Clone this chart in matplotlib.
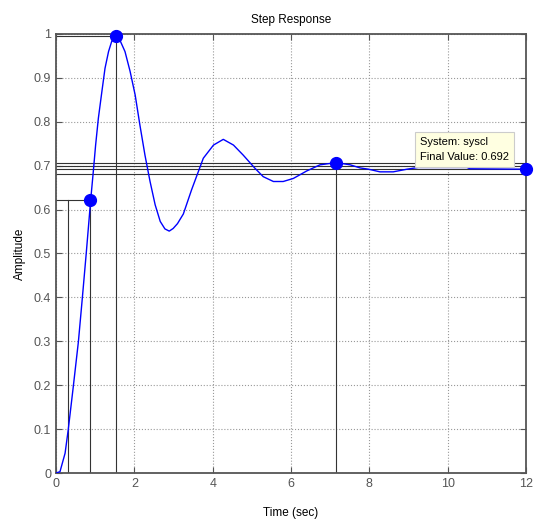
import matplotlib
matplotlib.use("Agg")
import matplotlib.pyplot as plt

# Step response curve
t = [0.0, 0.10, 0.23, 0.31, 0.44, 0.57, 0.67, 0.77, 0.886, 0.95, 1.01, 1.08, 1.17, 1.25,
     1.34, 1.42, 1.52, 1.63, 1.76, 1.89, 2.02, 2.14, 2.27, 2.40, 2.53, 2.66, 2.78, 2.89,
     2.99, 3.10, 3.25, 3.46, 3.76, 4.02, 4.27, 4.53, 4.78, 5.08, 5.29, 5.55, 5.80, 6.06,
     6.40, 6.74, 7.15, 7.51, 7.76, 7.98, 8.27, 8.61, 8.96, 9.25, 10.49, 10.57, 12.0]
y = [0.0, 0.003, 0.045, 0.098, 0.197, 0.299, 0.398, 0.50, 0.624, 0.686, 0.747, 0.808, 0.869, 0.922,
     0.960, 0.983, 0.994, 0.986, 0.960, 0.915, 0.861, 0.793, 0.724, 0.664, 0.611, 0.573, 0.556, 0.551,
     0.557, 0.568, 0.590, 0.645, 0.717, 0.747, 0.760, 0.747, 0.724, 0.694, 0.675, 0.664, 0.664, 0.671,
     0.688, 0.702, 0.707, 0.702, 0.695, 0.692, 0.686, 0.686, 0.692, 0.696, 0.696, 0.693, 0.692]

# Characteristic points
rise_start_t = 0.30
rise_end_t, rise_end_y = 0.87, 0.622
peak_t, peak_y = 1.52, 0.995
settle_t, settle_y = 7.15, 0.707
final_t, final_y = 12.0, 0.692
band_lines = [0.707, 0.700, 0.692, 0.680]

xticks = [0, 2, 4, 6, 8, 10, 12]
yticks = [0, 0.1, 0.2, 0.3, 0.4, 0.5, 0.6, 0.7, 0.8, 0.9, 1]
ytick_labels = ["0", "0.1", "0.2", "0.3", "0.4", "0.5", "0.6", "0.7", "0.8", "0.9", "1"]

plt.rcParams['font.family'] = ['Liberation Sans', 'DejaVu Sans']

fig = plt.figure(figsize=(5.34, 5.23), dpi=100)
ax = fig.add_axes([0.105, 0.0956, 0.88, 0.8394])

ax.set_xlim(0, 12)
ax.set_ylim(0, 1)

ax.grid(True, linestyle=':', color='#999999', linewidth=0.8)

lc = '#333333'
lw = 0.8
for b in band_lines:
    ax.axhline(b, color=lc, linewidth=lw, zorder=2)
ax.plot([0, rise_end_t], [rise_end_y, rise_end_y], color=lc, linewidth=lw, zorder=2)
ax.plot([rise_start_t, rise_start_t], [0, rise_end_y], color=lc, linewidth=lw, zorder=2)
ax.plot([rise_end_t, rise_end_t], [0, rise_end_y], color=lc, linewidth=lw, zorder=2)
ax.plot([0, peak_t], [peak_y, peak_y], color=lc, linewidth=lw, zorder=2)
ax.plot([peak_t, peak_t], [0, peak_y], color=lc, linewidth=lw, zorder=2)
ax.plot([settle_t, settle_t], [0, settle_y], color=lc, linewidth=lw, zorder=2)

ax.plot(t, y, color='#0000ff', linewidth=1.0, zorder=3)

mx = [rise_end_t, peak_t, settle_t, final_t]
my = [rise_end_y, peak_y, settle_y, final_y]
ax.plot(mx, my, 'o', color='#0000ff', markersize=8.5, zorder=5, clip_on=False)

ax.set_xticks(xticks)
ax.set_yticks(yticks)
ax.set_yticklabels(ytick_labels)
ax.tick_params(direction='in', length=4, colors='#555555', labelsize=9,
               top=True, right=True, width=0.8)
for s in ax.spines.values():
    s.set_color('#555555')
    s.set_linewidth(1.3)

ax.set_title('Step Response', fontsize=8.5, color='black', pad=8)
ax.set_xlabel('Time (sec)', fontsize=8.5, color='black', labelpad=12)
ax.set_ylabel('Amplitude', fontsize=8.5, color='black', labelpad=6)

ax.text(0.774, 0.766, 'System: syscl\nFinal Value: 0.692', transform=ax.transAxes,
        fontsize=8, color='black', va='top', ha='left', linespacing=1.7, zorder=6,
        bbox=dict(boxstyle='square,pad=0.45', facecolor='#ffffe1', edgecolor='#cccccc', linewidth=0.8))

fig.savefig('out.png', dpi=100)
